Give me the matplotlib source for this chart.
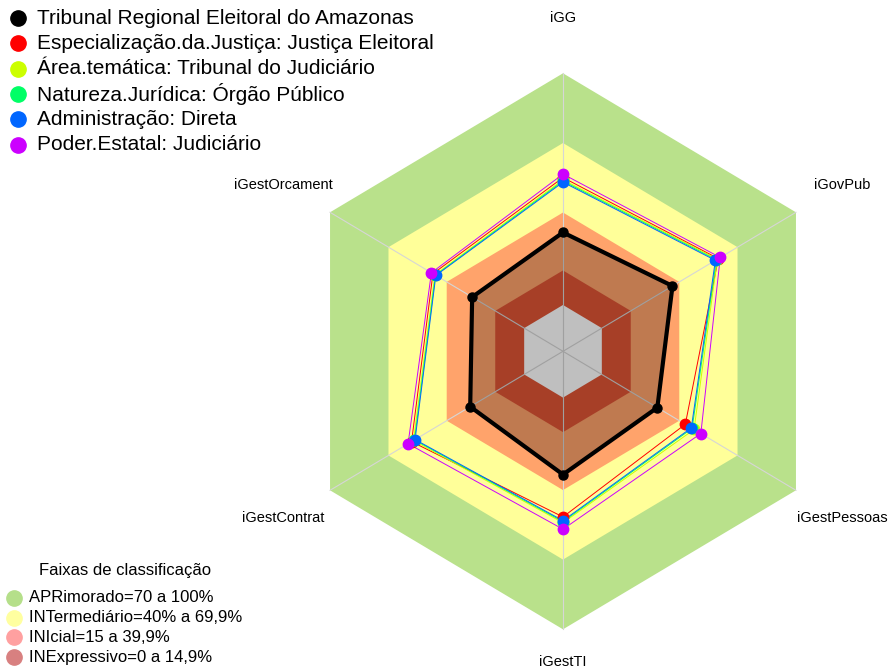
import numpy as np
import matplotlib.pyplot as plt

plt.rcParams['font.family'] = ['Liberation Sans', 'DejaVu Sans']

# axis names, clockwise from the top
axes_names = ["iGG", "iGovPub", "iGestPessoas", "iGestTI", "iGestContrat", "iGestOrcament"]

series_names = ["Tribunal Regional Eleitoral do Amazonas",
                "Especialização.da.Justiça: Justiça Eleitoral",
                "Área.temática: Tribunal do Judiciário",
                "Natureza.Jurídica: Órgão Público",
                "Administração: Direta",
                "Poder.Estatal: Judiciário"]
series_colors = ["#000000", "#FF0000", "#CCFF00", "#00FF66", "#0066FF", "#CC00FF"]

tribunal = [0.313, 0.364, 0.286, 0.332, 0.278, 0.268]
especializacao = [0.55, 0.60, 0.43, 0.515, 0.58, 0.47]
area_tematica = [0.54, 0.595, 0.475, 0.54, 0.57, 0.46]
natureza = [0.535, 0.59, 0.465, 0.535, 0.565, 0.457]
administracao = [0.53, 0.585, 0.461, 0.531, 0.562, 0.455]
poder_estatal = [0.565, 0.61, 0.51, 0.568, 0.598, 0.478]
series_values = [tribunal, especializacao, area_tematica, natureza, administracao, poder_estatal]

band_names = ["APRimorado=70 a 100%", "INTermediário=40% a 69,9%",
              "INIcial=15 a 39,9%", "INExpressivo=0 a 14,9%"]
band_limits = [1.0, 0.699, 0.399, 0.149]
band_colors = ["#b9e18b", "#ffff99", "#ffa36b", "#e05535"]
band_legend_colors = ["#b5df8a", "#ffffa0", "#ffa0a0", "#d88080"]

seg = 5
theta = np.deg2rad(90 - 60 * np.arange(len(axes_names)))


def radius(v):
    # fmsb-style scaling: value 0 sits at 1/(seg+1) of the radius
    return (1 + seg * np.asarray(v, dtype=float)) / (seg + 1)


def polygon(v):
    r = radius(v) * np.ones(len(theta))
    x = r * np.cos(theta)
    y = r * np.sin(theta)
    return np.append(x, x[0]), np.append(y, y[0])


W, H = 896, 672
fig = plt.figure(figsize=(W / 100, H / 100), dpi=100)
ax = fig.add_axes([0, 0, 1, 1])
ax.axis("off")
cx, cy, ux, uy = 563, 351.3, 269, 278
ax.set_xlim(-cx / ux, (W - cx) / ux)
ax.set_ylim(-(H - cy) / uy, cy / uy)

# classification bands
for lim, col in zip(band_limits, band_colors):
    x, y = polygon(lim)
    ax.fill(x, y, color=col, lw=0, zorder=1)
x, y = polygon(0)
ax.fill(x, y, color="white", lw=0, zorder=1)

# spokes
for t in theta:
    ax.plot([0, np.cos(t)], [0, np.sin(t)], color="#d6d6d6", lw=0.8, zorder=2)

# series
x, y = polygon(tribunal)
ax.fill(x, y, color="black", alpha=0.25, lw=0, zorder=3)
for i, (vals, col) in enumerate(zip(series_values, series_colors)):
    x, y = polygon(vals)
    if i == 0:
        ax.plot(x, y, color=col, lw=3, zorder=4)
        ax.plot(x[:-1], y[:-1], "o", color=col, ms=6.5, zorder=10)
    else:
        ax.plot(x, y, color=col, lw=0.7, zorder=4 + i)
        ax.plot(x[:-1], y[:-1], "o", color=col, ms=7.5, zorder=10 + i)

# axis labels (kept inside the figure like R does near the border)
ymin = ax.get_ylim()[0] + 3 / uy
for name, t in zip(axes_names, theta):
    lx, ly = 1.2 * np.cos(t), 1.2 * np.sin(t)
    if ly < ymin:
        ax.text(lx, ymin, name, ha="center", va="bottom", fontsize=10.5)
    else:
        ax.text(lx, ly, name, ha="center", va="center", fontsize=10.5)


def px(x, y):
    return x / W, 1 - y / H


# series legend (top left)
for i, (name, col) in enumerate(zip(series_names, series_colors)):
    yy = 18 + 25.3 * i
    fig.lines.append(plt.Line2D(*[[v] for v in px(18, yy)], marker="o", ms=11, color=col,
                                transform=fig.transFigure))
    fig.text(*px(37, yy), name, ha="left", va="center", fontsize=15)

# bands legend (bottom left)
fig.text(*px(125, 571), "Faixas de classificação", ha="center", va="center", fontsize=12)
for i, (name, col) in enumerate(zip(band_names, band_legend_colors)):
    yy = 598 + 19.7 * i
    fig.lines.append(plt.Line2D(*[[v] for v in px(14, yy)], marker="o", ms=11, color=col,
                                transform=fig.transFigure))
    fig.text(*px(29, yy), name, ha="left", va="center", fontsize=12)

fig.savefig("out.png", dpi=100)
